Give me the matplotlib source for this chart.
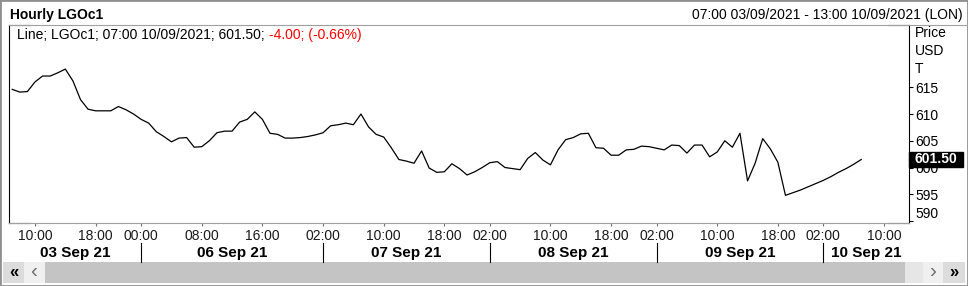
import matplotlib
matplotlib.use("Agg")
import matplotlib.pyplot as plt
from matplotlib.lines import Line2D
from matplotlib.patches import Rectangle

plt.rcParams['font.family'] = ['Liberation Sans', 'DejaVu Sans']

# hourly LGOc1, 07:00 03/09/2021 .. 07:00 10/09/2021 (trading hours only, one value per bar)
price = [614.6, 614.1, 614.2, 616.0, 617.1, 617.1, 617.7, 618.4, 616.2, 612.7,
         610.9, 610.6, 610.6, 610.6, 611.4, 610.8, 610.0, 609.0, 608.3, 606.7,
         605.8, 604.8, 605.5, 605.6, 603.8, 603.9, 605.0, 606.5, 606.8, 606.8,
         608.5, 609.0, 610.4, 609.0, 606.4, 606.2, 605.5, 605.5, 605.6, 605.8,
         606.1, 606.5, 607.8, 608.0, 608.3, 608.0, 610.0, 607.6, 606.2, 605.7,
         603.7, 601.5, 601.2, 600.8, 603.1, 599.9, 599.1, 599.2, 600.7, 599.8,
         598.6, 599.2, 600.0, 600.9, 601.1, 600.0, 599.8, 599.6, 601.7, 602.8,
         601.4, 600.5, 603.3, 605.2, 605.6, 606.3, 606.4, 603.7, 603.6, 602.3,
         602.3, 603.3, 603.4, 604.0, 603.9, 603.6, 603.3, 604.2, 604.1, 602.7,
         604.2, 604.2, 602.0, 602.9, 605.0, 603.8, 606.4, 597.5, 600.8, 605.4,
         603.5, 601.0, 594.8, 595.3, 595.8, 596.4, 597.0, 597.6, 598.3, 599.1,
         599.8, 600.6, 601.5]

tick_idx = [3, 11, 17, 25, 33, 41, 49, 57, 63, 71, 79, 85, 93, 101, 107, 115]
tick_lbl = ['10:00', '18:00', '00:00', '08:00', '16:00', '02:00', '10:00', '18:00',
            '02:00', '10:00', '18:00', '02:00', '10:00', '18:00', '02:00', '10:00']
day_start = [17, 41, 63, 85, 107]
day_lbl = ['03 Sep 21', '06 Sep 21', '07 Sep 21', '08 Sep 21', '09 Sep 21', '10 Sep 21']
y_ticks = [590, 595, 600, 605, 610, 615]
last_price = 601.50
chg = -4.00
chg_pct = -0.66

W, H = 968, 286
def fx(px):
    return px / W
def fy(py):
    return 1 - py / H

fig = plt.figure(figsize=(W / 100, H / 100), dpi=100)
ax = fig.add_axes([fx(9), fy(223), fx(909) - fx(9), fy(25) - fy(223)])
ax.plot(range(len(price)), price, color='black', lw=0.9)
ax.set_xlim(-0.43, 118.3)
ax.set_ylim(589.63, 626.64)

for s in ['left', 'right']:
    ax.spines[s].set_color('black')
    ax.spines[s].set_linewidth(0.8)
for s in ['top', 'bottom']:
    ax.spines[s].set_color('#a0a0a0')
    ax.spines[s].set_linewidth(0.8)
# short black bits at the frame corners
c = 21 / 900
for xs, yv in [([0, c], 0), ([0, c], 1), ([1 - c, 1], 0), ([1 - c, 1], 1)]:
    ax.plot(xs, [yv, yv], transform=ax.transAxes, color='black', lw=0.8, clip_on=False)

ax.set_xticks(tick_idx, tick_lbl)
ax.tick_params(axis='x', length=2.5, width=0.8, color='#707070', pad=1.5,
               labelsize=10, labelcolor='#1a1a1a')
ax.yaxis.tick_right()
ax.set_yticks(y_ticks, [str(v) for v in y_ticks])
ax.tick_params(axis='y', length=3, width=0.8, pad=1.5, labelsize=10)
ax.get_yticklabels()[0].set_verticalalignment('bottom')

# header
fig.text(fx(10), fy(15), 'Hourly LGOc1', fontsize=10, fontweight='bold', va='center')
fig.text(fx(963), fy(15), '07:00 03/09/2021 - 13:00 10/09/2021 (LON)', fontsize=10,
         va='center', ha='right')
fig.add_artist(Line2D([fx(909), 1], [fy(25), fy(25)], color='#a0a0a0', lw=0.8))

t1 = fig.text(fx(17), fy(35), 'Line; LGOc1; 07:00 10/09/2021; %.2f;' % last_price,
              fontsize=10, va='center')
fig.canvas.draw()
bb = t1.get_window_extent()
fig.text((bb.x1 + 4) / W, fy(35), '%.2f; (%.2f%%)' % (chg, chg_pct), fontsize=10,
         va='center', color='#ff0000')

for i, s in enumerate(['Price', 'USD', 'T']):
    fig.text(fx(915), fy(33 + 18 * i), s, fontsize=10, va='center')

# last value tag
ypix = ax.transData.transform((0, last_price))[1]
fig.add_artist(Rectangle((fx(909), (ypix - 7.5) / H), fx(963) - fx(909), 15 / H,
                         transform=fig.transFigure, color='black', zorder=5))
fig.text(fx(936), ypix / H, '%.2f' % last_price, color='white', fontsize=10,
         fontweight='bold', ha='center', va='center', zorder=6)

# date band
xmin, xmax = ax.get_xlim()
bounds = [xmin] + day_start + [xmax]
for d in day_start:
    xd = ax.transData.transform((d, 0))[0] / W
    fig.add_artist(Line2D([xd, xd], [fy(262), fy(243)], color='black', lw=0.8))
for k, lbl in enumerate(day_lbl):
    mid = (bounds[k] + bounds[k + 1]) / 2
    xm = ax.transData.transform((mid, 0))[0] / W
    fig.text(xm, fy(253), lbl, fontsize=11, fontweight='bold', ha='center', va='center')

# scroll bar
def box(x0, x1, col):
    fig.add_artist(Rectangle((fx(x0), fy(283)), fx(x1) - fx(x0), 21 / H,
                             transform=fig.transFigure, color=col, lw=0))
box(3, 24, '#dcdcdc')
box(24, 45, '#f0f0f0')
box(45, 905, '#c4c4c4')
box(905, 923, '#e6e6e6')
box(923, 943, '#f0f0f0')
box(943, 965, '#dcdcdc')
fig.text(fx(13.5), fy(272.5), '«', fontsize=12, fontweight='bold', ha='center', va='center')
fig.text(fx(34), fy(272), '‹', fontsize=15, color='#707070', ha='center', va='center')
fig.text(fx(933), fy(272), '›', fontsize=15, color='#707070', ha='center', va='center')
fig.text(fx(954), fy(272.5), '»', fontsize=12, fontweight='bold', ha='center', va='center')

# outer frame
fig.add_artist(Rectangle((0, 0), 1, 1, transform=fig.transFigure, fill=False,
                         edgecolor='#909090', lw=2))

fig.savefig('out.png', dpi=100)
